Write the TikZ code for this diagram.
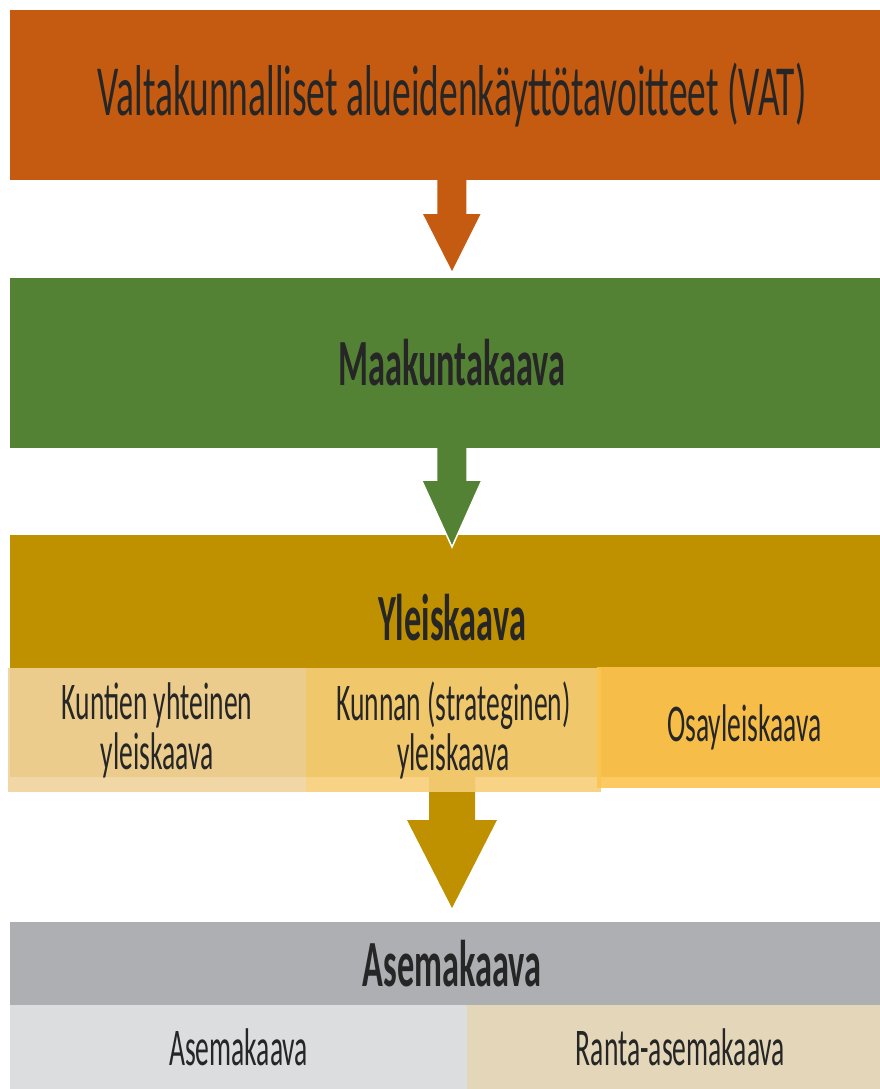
\documentclass[tikz,border=0pt]{standalone}
\usepackage{fontspec}
\setmainfont{Carlito}[FakeStretch=0.52]
\usetikzlibrary{calc}

\definecolor{textcol}{RGB}{38,38,38}
\definecolor{vatcol}{RGB}{197,90,17}
\definecolor{maakcol}{RGB}{84,130,53}
\definecolor{yleiscol}{RGB}{191,144,0}
\definecolor{kuntiencol}{RGB}{240,211,156}
\definecolor{kunnancol}{RGB}{247,205,120}
\definecolor{osacol}{RGB}{252,196,80}
\definecolor{asemacol}{RGB}{174,175,179}
\definecolor{asemaLcol}{RGB}{220,221,223}
\definecolor{rantacol}{RGB}{228,214,185}

\begin{document}
\begin{tikzpicture}[
    x = 1pt, y = -1pt,
    every node/.style = {inner sep = 0pt, outer sep = 0pt, text = textcol},
    box/.style = {anchor = north west, minimum width = 870, minimum height = 170},
    subbox/.style = {anchor = north west, minimum height = 124, fill opacity = 0.9, text opacity = 1},
    nudge/.style = {execute at begin node = {\hspace*{#1pt}}},
    headtext/.style = {font = \fontsize{72}{80}\selectfont},
    boldtext/.style = {font = \bfseries\fontsize{66}{70}\selectfont},
    subtext/.style = {font = \fontsize{53}{50}\selectfont, align = center},
    blockarrow/.style = {draw = white, line width = 1.5pt}
]
\useasboundingbox (0,0) rectangle (880,1089);
\coordinate (axis) at (452,0);

\node[box, fill = vatcol, headtext, nudge = 14] (vat) at (10,10) {Valtakunnalliset alueidenkäyttötavoitteet (VAT)};
\node[box, fill = maakcol, boldtext, nudge = 14] (maak) at (10,278) {Maakuntakaava};
\node[box, fill = yleiscol, minimum height = 242] (yleis) at (10,535) {};
\node[boldtext, anchor = base] (yleisotsikko) at ($(yleis.north)+(7,105)$) {Yleiskaava};
\node[box, fill = asemacol, minimum height = 83, boldtext, nudge = 14] (asema) at (10,922) {Asemakaava};
\node[anchor = north west, minimum width = 457, minimum height = 84, fill = asemaLcol, subtext] (asemaL) at (asema.south west) {Asemakaava};
\node[anchor = north west, minimum width = 413, minimum height = 84, fill = rantacol, subtext, nudge = 14] (ranta) at (asemaL.north east) {Ranta-asemakaava};

% arrows
\filldraw[blockarrow, fill = vatcol] (vat.south -| axis) ++(-15.5,0) -- ++(0,33) -- ++(-15,0)
    -- ($(maak.north -| axis)+(0,-5)$) -- ++(30,-60) -- ++(-15,0) -- ++(0,-33);
\filldraw[blockarrow, fill = maakcol] (maak.south -| axis) ++(-15.5,0) -- ++(0,32) -- ++(-15,0)
    -- ($(yleis.north -| axis)+(0,12)$) -- ++(30,-67) -- ++(-15,0) -- ++(0,-32);
\fill[yleiscol] (yleis.south -| axis) ++(-23,0) -- ++(0,43) -- ++(-22,0)
    -- ($(asema.north -| axis)+(0,-14)$) -- ++(45,-88) -- ++(-22,0) -- ++(0,-43) -- cycle;

% yleiskaava parts
\node[subbox, minimum width = 298, fill = kuntiencol, subtext] (kuntien) at (8,668) {Kuntien yhteinen\\yleiskaava};
\node[subbox, minimum width = 295, fill = kunnancol, subtext] (kunnan) at (kuntien.north east) {Kunnan (strateginen)\\yleiskaava};
\node[subbox, minimum width = 283, minimum height = 121, fill = osacol, subtext, nudge = 12] (osa) at (597,667) {Osayleiskaava};

\end{tikzpicture}
\end{document}
